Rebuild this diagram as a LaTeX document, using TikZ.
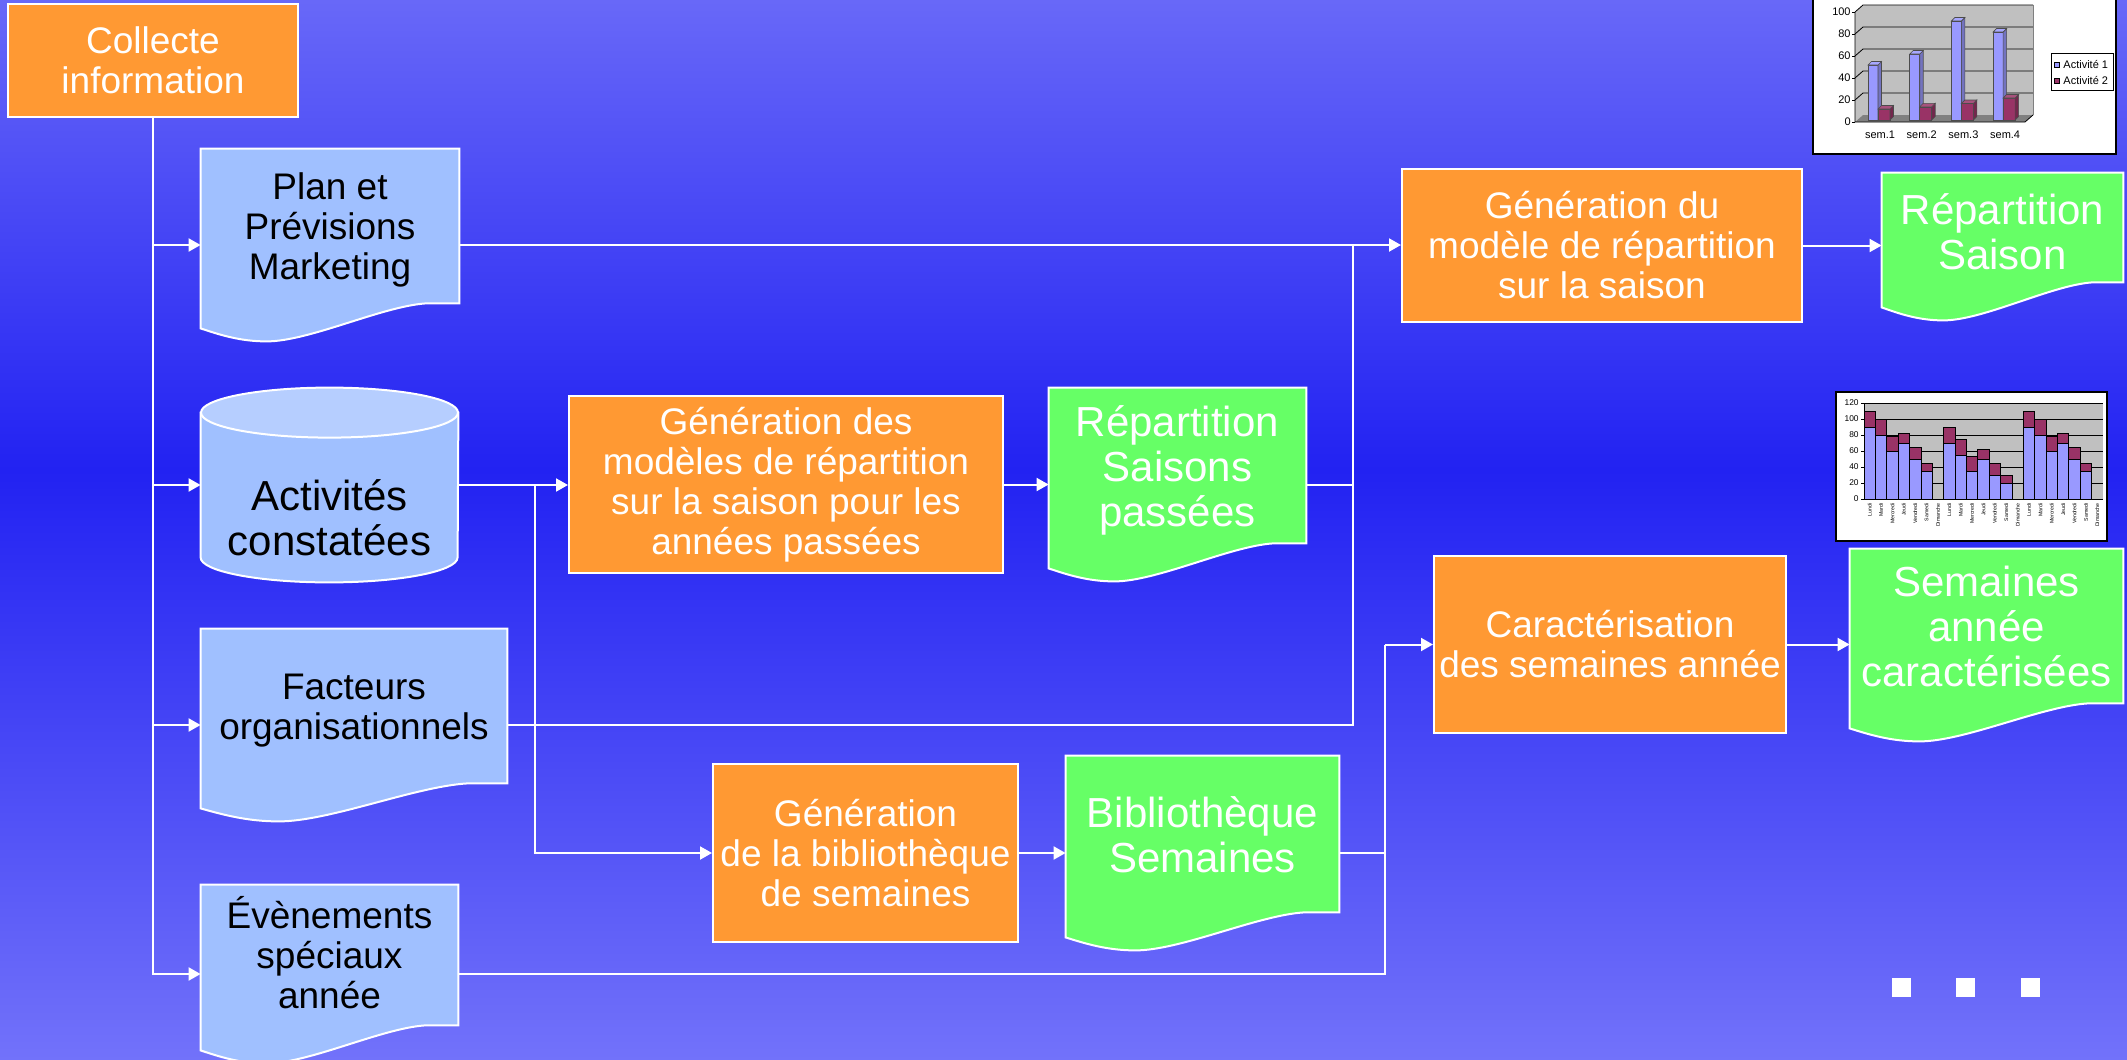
\documentclass[tikz,border=0pt]{standalone}
\usepackage{fontspec}
\setmainfont{Liberation Sans}
\usetikzlibrary{calc, positioning, arrows.meta}

\definecolor{bgtop}{RGB}{104,104,248}
\definecolor{bgmid}{RGB}{34,34,242}
\definecolor{bgbot}{RGB}{114,114,250}
\definecolor{boxorange}{RGB}{255,153,51}
\definecolor{docgreen}{RGB}{102,255,102}
\definecolor{docblue}{RGB}{160,192,255}
\definecolor{cyltop}{RGB}{182,206,255}
\definecolor{barblue}{RGB}{153,153,255}
\definecolor{barwine}{RGB}{153,51,102}
\definecolor{wallgray}{RGB}{192,192,192}

\pgfdeclarelayer{back}
\pgfsetlayers{back,main}

\newcommand{\boxfont}{\fontsize{18.5}{20}\selectfont}
\newcommand{\outfont}{\fontsize{21}{22.5}\selectfont}

% sheet with a wavy lower edge, drawn round an empty node
\newcommand{\docshape}[2]{%
  \filldraw[boxline, fill=#2] (#1.north west) -- (#1.north east)
    -- ([yshift=12.5pt]#1.south east)
    -- ($(#1.south west)!0.87!(#1.south east)+(0pt,12.5pt)$)
    .. controls ($(#1.south west)!0.7!(#1.south east)+(0pt,11pt)$)
       and ($(#1.south west)!0.42!(#1.south east)+(0pt,-6.5pt)$)
    .. ($(#1.south west)!0.255!(#1.south east)+(0pt,-6.5pt)$)
    .. controls ($(#1.south west)!0.15!(#1.south east)+(0pt,-6.5pt)$)
       and ($(#1.south west)!0.07!(#1.south east)+(0pt,-3pt)$)
    .. (#1.south west) -- cycle;}

% one 3d bar of the weekly chart
\newcommand{\weekbar}[4]{%
  \filldraw[fill=#4, draw=black!70, line width=0.3pt] (#1,120) rectangle ({#1+#2},{120-#3});
  \filldraw[fill=#4!75!black, draw=black!70, line width=0.3pt] ({#1+#2},120) -- ({#1+#2+3.5},116.5)
    -- ({#1+#2+3.5},{116.5-#3}) -- ({#1+#2},{120-#3}) -- cycle;
  \filldraw[fill=#4!85!white, draw=black!70, line width=0.3pt] (#1,{120-#3}) -- ({#1+3.5},{116.5-#3})
    -- ({#1+#2+3.5},{116.5-#3}) -- ({#1+#2},{120-#3}) -- cycle;}

\begin{document}
\begin{tikzpicture}[x=0.5pt, y=-0.5pt,
    boxline/.style={draw=white, line width=1pt},
    procbox/.style={boxline, fill=boxorange, text=white, align=center, inner sep=0pt, font=\boxfont},
    docarea/.style={inner sep=0pt},
    doctext/.style={align=center, inner sep=0pt, text=black, font=\boxfont},
    outtext/.style={align=center, inner sep=0pt, text=white, font=\outfont},
    wire/.style={white, line width=1pt},
    flow/.style={wire, -{Triangle[length=6pt, width=6.5pt]}},
    ticklabel/.style={inner sep=0pt, font=\fontsize{5.5}{6}\selectfont},
    smalltick/.style={inner sep=0pt, font=\fontsize{4.2}{5}\selectfont},
    daylabel/.style={inner sep=0pt, rotate=90, anchor=east, font=\fontsize{2.6}{3}\selectfont}]
\useasboundingbox (0,0) rectangle (2127,1060);

\begin{pgfonlayer}{back}
  \shade[top color=bgtop, bottom color=bgmid] (0,0) rectangle (2127,470);
  \shade[top color=bgmid, bottom color=bgbot] (0,470) rectangle (2127,1060);
\end{pgfonlayer}

% processes
\node[procbox, minimum width=145pt, minimum height=56.5pt] (coll) at (153,60.5) {Collecte\\information};
\node[procbox, minimum width=217pt, minimum height=88.5pt] (gendes) at (786,484.5) {Génération des\\modèles de répartition\\sur la saison pour les\\années passées};
\node[procbox, minimum width=200pt, minimum height=76.5pt] (gendu) at (1602,245.5) {Génération du\\modèle de répartition\\sur la saison};
\node[procbox, minimum width=176pt, minimum height=88.5pt] (car) at (1610,644.5) {Caractérisation\\des semaines année};
\node[procbox, minimum width=152.5pt, minimum height=89pt] (genbib) at (865.5,853) {Génération\\de la bibliothèque\\de semaines};

% documents and data
\node[docarea, minimum width=129pt, minimum height=89.5pt] (plan) at (330,238.5) {};
\node[docarea, minimum width=128.5pt, minimum height=97pt] (act) at (329.5,485) {};
\node[docarea, minimum width=153pt, minimum height=89.5pt] (fact) at (354,718.5) {};
\node[docarea, minimum width=128.5pt, minimum height=82.5pt] (even) at (329.5,967.5) {};
\node[docarea, minimum width=128.5pt, minimum height=90pt] (reppas) at (1177.5,478) {};
\node[docarea, minimum width=120.5pt, minimum height=67pt] (repsai) at (2002.5,240) {};
\node[docarea, minimum width=136.5pt, minimum height=89.5pt] (semann) at (1986.5,638.5) {};
\node[docarea, minimum width=136.5pt, minimum height=90.5pt] (bib) at (1202.5,846.5) {};

\begin{pgfonlayer}{back}
  \docshape{plan}{docblue}
  \docshape{fact}{docblue}
  \docshape{even}{docblue}
  \docshape{reppas}{docgreen}
  \docshape{repsai}{docgreen}
  \docshape{semann}{docgreen}
  \docshape{bib}{docgreen}
  \filldraw[boxline, fill=docblue] ([yshift=-12.5pt]act.north west) -- ([yshift=12.5pt]act.south west)
    arc[start angle=180, end angle=360, x radius=64.25pt, y radius=12.5pt]
    -- ([yshift=-12.5pt]act.north east) -- cycle;
  \filldraw[boxline, fill=cyltop] ([yshift=-12.5pt]act.north) ellipse[x radius=64.25pt, y radius=12.5pt];
\end{pgfonlayer}

\node[doctext] (plantext) at (330,230) {Plan et\\Prévisions\\Marketing};
\node[doctext, font=\outfont] (acttext) at (329.5,517.5) {Activités\\constatées};
\node[doctext] (facttext) at (354,710.5) {Facteurs\\organisationnels};
\node[doctext] (eventext) at (329.5,953) {Évènements\\spéciaux\\année};
\node[outtext] (reppastext) at (1177.5,470) {Répartition\\Saisons\\passées};
\node[outtext] (repsaitext) at (2002.5,231.5) {Répartition\\Saison};
\node[outtext] (semanntext) at (1986.5,626.5) {Semaines\\année\\caractérisées};
\node[outtext] (bibtext) at (1202.5,835) {Bibliothèque\\Semaines};

% connectors
\coordinate (jlib) at (535,485);
\coordinate (jsai) at (1353,245);
\coordinate (jsem) at (1385,644.5);

\draw[flow] (coll.south) |- ([yshift=-3.25pt]even.west);
\draw[flow] ([yshift=-3.25pt]plan.west -| coll.south) -- ([yshift=-3.25pt]plan.west);
\draw[flow] (act.west -| coll.south) -- (act.west);
\draw[flow] ([yshift=-3.25pt]fact.west -| coll.south) -- ([yshift=-3.25pt]fact.west);

\draw[flow] ([yshift=-3.25pt]plan.east) -- ([yshift=-3.25pt]plan.east -| gendu.west);
\draw[flow] (act.east) -- (act.east -| gendes.west);
\draw[flow] (jlib) |- (genbib.west);
\draw[flow] (gendes.east) -- (gendes.east -| reppas.west);
\draw[wire] ([yshift=-3.25pt]reppas.east) -| (jsai);
\draw[wire] ([yshift=-3.25pt]fact.east) -| (jsai);
\draw[flow] (gendu.east) -- (gendu.east -| repsai.west);
\draw[flow] (genbib.east) -- (genbib.east -| bib.west);
\draw[wire] ([yshift=-3.25pt]even.east) -| (jsem);
\draw[wire] ([yshift=-3.25pt]bib.east) -- ([yshift=-3.25pt]bib.east -| jsem);
\draw[flow] (jsem) -- (car.west);
\draw[flow] (car.east) -- (car.east -| semann.west);

% weekly chart
\draw[fill=white, line width=0.6pt] (1813,-4) rectangle (2116,154);
\fill[wallgray] (1863,5) rectangle (2033,115);
\fill[wallgray] (1855,12) -- (1863,5) -- (1863,115) -- (1855,122) -- cycle;
\fill[gray] (1855,122) -- (1863,115) -- (2033,115) -- (2025,122) -- cycle;
\foreach \v in {20,40,...,100}
  \draw[line width=0.4pt] (1855,{122-1.1*\v}) -- (1863,{115-1.1*\v}) -- (2033,{115-1.1*\v});
\draw[line width=0.3pt, gray] (1863,5) -- (2033,5) -- (2033,115);
\draw[line width=0.4pt] (1855,12) -- (1855,122) -- (2025,122) -- (2033,115);
\foreach \v in {0,20,...,100} {
  \draw[line width=0.4pt] (1852,{122-1.1*\v}) -- (1855,{122-1.1*\v});
  \node[ticklabel, anchor=east] (ya\v) at (1851,{122-1.1*\v}) {\v};
}
\foreach \i/\va/\vb in {0/50/10, 1/60/12, 2/90/15, 3/80/20} {
  \pgfmathsetmacro{\xa}{1868+41.7*\i}
  \weekbar{\xa}{10}{1.1*\va}{barblue}
  \weekbar{\xa+10}{12}{1.1*\vb}{barwine}
}
\foreach \i/\n in {0/1, 1/2, 2/3, 3/4}
  \node[ticklabel] (wk\n) at ({1880+41.7*\i},135) {sem.\n};
\draw[fill=white, line width=0.4pt] (2051,53) rectangle (2113,90);
\filldraw[fill=barblue, draw=black, line width=0.3pt] (2054,62) rectangle (2059,67);
\filldraw[fill=barwine, draw=black, line width=0.3pt] (2054,78) rectangle (2059,83);
\node[ticklabel, anchor=west] (lega) at (2063,64.5) {Activité 1};
\node[ticklabel, anchor=west] (legb) at (2063,80.5) {Activité 2};

% daily chart
\draw[fill=white, line width=0.6pt] (1836,392) rectangle (2107,541);
\fill[wallgray] (1864,403) rectangle (2103,499);
\foreach \v in {0,20,...,120} {
  \draw[line width=0.5pt] (1861,{499-0.8*\v}) -- (2103,{499-0.8*\v});
  \node[smalltick, anchor=east] (yb\v) at (1859,{499-0.8*\v}) {\v};
}
\draw[line width=0.5pt] (1864,403) -- (1864,499);
\foreach \k/\a/\b/\d in {0/90/110/Lundi, 1/80/100/Mardi, 2/60/78/Mercredi, 3/70/82/Jeudi,
    4/50/65/Vendredi, 5/35/45/Samedi, 6/0/0/Dimanche,
    7/70/90/Lundi, 8/55/75/Mardi, 9/35/53/Mercredi, 10/50/62/Jeudi,
    11/30/45/Vendredi, 12/20/30/Samedi, 13/0/0/Dimanche,
    14/90/110/Lundi, 15/80/100/Mardi, 16/60/78/Mercredi, 17/70/82/Jeudi,
    18/50/65/Vendredi, 19/35/45/Samedi, 20/0/0/Dimanche} {
  \ifnum\a>0
    \filldraw[fill=barblue, draw=black, line width=0.4pt] ({1864+11.38*\k},499) rectangle ({1864+11.38*(\k+1)},{499-0.8*\a});
    \filldraw[fill=barwine, draw=black, line width=0.4pt] ({1864+11.38*\k},{499-0.8*\a}) rectangle ({1864+11.38*(\k+1)},{499-0.8*\b});
  \fi
  \node[daylabel] (day\k) at ({1864+11.38*(\k+0.5)},503) {\d};
}

% slide marks
\foreach \x in {1892,1956,2021}
  \fill[white] (\x,978) rectangle ({\x+19},997);
\end{tikzpicture}
\end{document}
